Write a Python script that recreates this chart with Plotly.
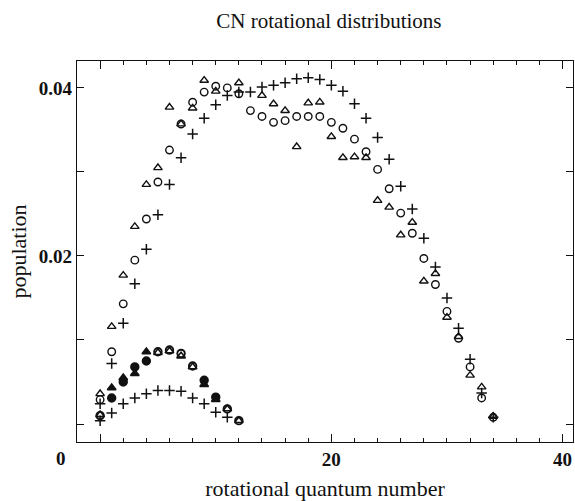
import plotly.graph_objects as go

# ---------------- data ----------------
J_upper = list(range(0, 35))
upper_circles = [0.0029, 0.0086, 0.0143, 0.0195, 0.0244, 0.0288, 0.0326, 0.0357, 0.0383, 0.0395,
                 0.0402, 0.0400, 0.0393, 0.0373, 0.0366, 0.0359, 0.0361, 0.0366, 0.0366, 0.0366,
                 0.0359, 0.0352, 0.0339, 0.0324, 0.0303, 0.0280, 0.0251, 0.0227, 0.0197, 0.0166,
                 0.0134, 0.0102, 0.0068, 0.0031, 0.0008]
upper_triangles = [0.0036, 0.0116, 0.0177, 0.0235, 0.0285, 0.0305, 0.0377, 0.0357, 0.0376, 0.0409,
                   0.0396, None, 0.0406, None, 0.0391, 0.0381, 0.0373, 0.0330, 0.0382, 0.0383,
                   0.0342, 0.0317, 0.0318, 0.0317, 0.0266, 0.0258, 0.0225, 0.0240, 0.0170, 0.0179,
                   0.0127, 0.0104, 0.0058, 0.0044, 0.0009]
upper_plus = [0.0024, 0.0072, 0.0120, 0.0167, 0.0208, 0.0249, 0.0285, 0.0317, 0.0345, 0.0364,
              0.0380, 0.0391, 0.0395, 0.0395, 0.0401, 0.0403, 0.0406, 0.0411, 0.0412, 0.0410,
              0.0403, 0.0396, 0.0381, 0.0364, 0.0341, 0.0315, 0.0283, 0.0256, 0.0221, 0.0187,
              0.0150, 0.0114, 0.0077, 0.0037, 0.0008]

J_lower = list(range(0, 13))
lower_circles = [0.0010, 0.0031, 0.0050, 0.0068, 0.0075, 0.0086, 0.0088, 0.0084, 0.0069, 0.0052,
                 0.0032, 0.0018, 0.0004]
lower_triangles = [0.0011, 0.0043, 0.0055, 0.0060, 0.0086, 0.0085, 0.0087, 0.0081, 0.0068, 0.0047,
                   0.0029, 0.0018, 0.0004]
lower_plus = [0.0004, 0.0013, 0.0024, 0.0031, 0.0036, 0.0040, 0.0040, 0.0039, 0.0031, 0.0024,
              0.0014, 0.0008, None]

x_tick_vals = [0, 20, 40]
x_tick_text = ["", "20", "40"]
y_tick_vals = [0.02, 0.04]
y_tick_text = ["0.02", "0.04"]

# ---------------- styling ----------------
SERIF = "Liberation Serif"
INK = "#111111"
filled_J = {1, 2, 3, 4, 9, 10}

fig = go.Figure()


def add(xs, ys, symbol, size, lw=1.3):
    fig.add_trace(go.Scatter(
        x=xs, y=ys, mode="markers", showlegend=False, cliponaxis=False,
        marker=dict(symbol=symbol, size=size, color=INK,
                    line=dict(color=INK, width=lw)),
    ))


add(J_upper, upper_circles, "circle-open", 7.5, 1.4)
add(J_upper, upper_triangles, "triangle-up-open", 7.5, 1.4)
add(J_upper, upper_plus, "cross-thin-open", 7.5, 1.5)

lower_c_sym = ["circle" if j in filled_J else "circle-open" for j in J_lower]
lower_t_sym = ["triangle-up" if j in filled_J else "triangle-up-open" for j in J_lower]
add(J_lower, lower_triangles, lower_t_sym, 7.5, 1.6)
add(J_lower, lower_circles, lower_c_sym, 7.5, 1.9)
add(J_lower, lower_plus, "cross-thin-open", 7.5, 1.5)

axis_common = dict(
    showgrid=False, zeroline=False, showline=True, linecolor=INK, linewidth=1.4,
    mirror="allticks", ticks="inside", tickcolor=INK, tickwidth=1.2,
    tickfont=dict(family=SERIF, size=19, color=INK, weight="bold"),
)

fig.update_xaxes(
    range=[-2.0, 40.9], tickvals=x_tick_vals, ticktext=x_tick_text, ticklen=8,
    minor=dict(dtick=2, tick0=0, ticks="inside", ticklen=4, tickcolor=INK, tickwidth=1.1),
    title=dict(text="rotational quantum number", font=dict(family=SERIF, size=22, color=INK),
               standoff=13),
    **axis_common,
)
fig.update_yaxes(
    range=[-0.00214, 0.0432], tickvals=y_tick_vals, ticktext=y_tick_text, ticklen=7,
    minor=dict(tickvals=[0.0, 0.01, 0.03], ticks="inside", ticklen=7, tickcolor=INK, tickwidth=1.2),
    title=dict(text="population", font=dict(family=SERIF, size=22, color=INK), standoff=6),
    **axis_common,
)

# the "0" label sits left of the frame in the reference
fig.add_annotation(x=-0.032, y=0, xref="paper", yref="paper", yshift=-4, yanchor="top",
                   xanchor="center", text="0", showarrow=False,
                   font=dict(family=SERIF, size=19, color=INK, weight="bold"))

fig.update_layout(
    width=575, height=501,
    margin=dict(l=77, r=2, t=61, b=59),
    paper_bgcolor="white", plot_bgcolor="white",
    title=dict(text="CN rotational distributions", x=0.572, xanchor="center", y=0.958,
               yanchor="middle", font=dict(family=SERIF, size=21, color=INK)),
)

fig.write_html("out.html")
